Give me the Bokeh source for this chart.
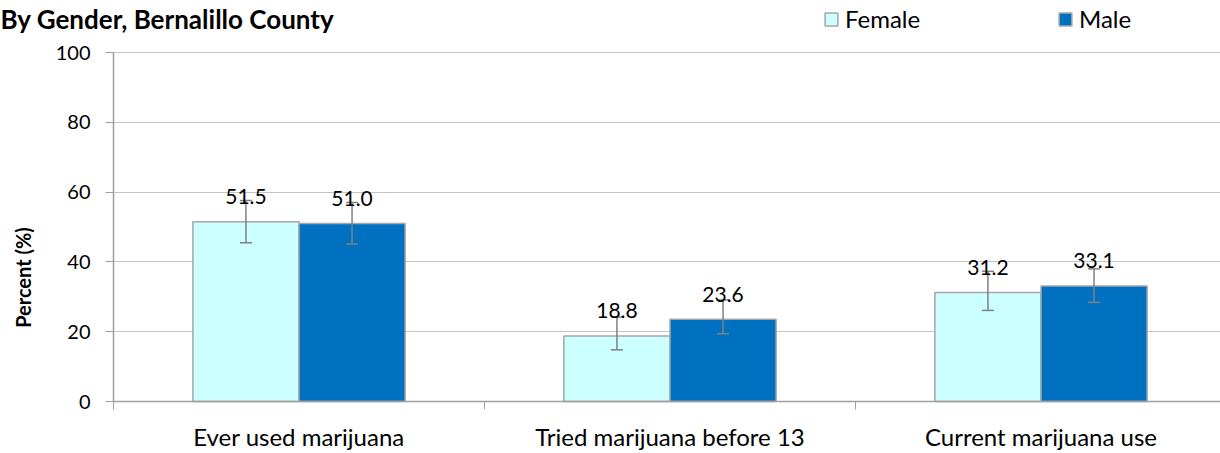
import math
from bokeh.plotting import figure
from bokeh.models import (Range1d, FixedTicker, Whisker, TeeHead, ColumnDataSource,
                          Legend, LegendItem, Label)
from bokeh.embed import file_html
from bokeh.resources import INLINE

# ---- data ----
categories = ["Ever used marijuana", "Tried marijuana before 13", "Current marijuana use"]
series = ["Female", "Male"]
female = [51.5, 18.8, 31.2]
male = [51.0, 23.6, 33.1]
female_lo = [45.5, 14.8, 26.1]
female_hi = [57.6, 24.2, 37.3]
male_lo = [45.1, 19.4, 28.4]
male_hi = [57.0, 29.1, 38.0]
y_ticks = [0, 20, 40, 60, 80, 100]
title_text = "By Gender, Bernalillo County"
y_label = "Percent (%)"

FONT = "Lato"
AXIS_GRAY = "#A0A0A0"
GRID_GRAY = "#C4C4C4"
BAR_EDGE = "#A6A6A6"
ERR_GRAY = "#808080"
F_COLOR = "#CCFFFF"
M_COLOR = "#0070C0"

# ---- layout (pixels) ----
W, H = 1220, 453
AX_L, AX_T, AX_B = 113, 52, 401      # plot-area left / top / bottom on canvas
CAT_W = 371.0                        # pixels per category
PPU = (AX_B - AX_T) / 100.0          # pixels per percent

x_start = -AX_L / CAT_W
x_end = (W - AX_L) / CAT_W
y_start = -(H - AX_B) / PPU
y_end = 100 + AX_T / PPU


def px_x(px):
    return (px - AX_L) / CAT_W


def px_y(py):
    return (AX_B - py) / PPU


BW = 0.286
n = len(categories)
centers = [i + 0.5 for i in range(n)]
src = ColumnDataSource(dict(
    xf=[c - BW / 2 for c in centers],
    xm=[c + BW / 2 for c in centers],
    female=female, male=male,
    flo=female_lo, fhi=female_hi, mlo=male_lo, mhi=male_hi,
    flab=[f"{v:.1f}" for v in female],
    mlab=[f"{v:.1f}" for v in male],
))

p = figure(width=W, height=H, output_backend="svg", toolbar_location=None,
           x_range=Range1d(x_start, x_end), y_range=Range1d(y_start, y_end),
           min_border_left=0, min_border_right=0, min_border_top=0,
           min_border_bottom=0)
p.outline_line_color = None
p.background_fill_color = "white"
p.border_fill_color = "white"

# x axis (drawn at y = 0)
xa = p.xaxis[0]
xa.fixed_location = 0
xa.bounds = (0, x_end)
xa.ticker = FixedTicker(ticks=centers, minor_ticks=[float(i) for i in range(n + 1)])
xa.major_label_overrides = {c: cat for c, cat in zip(centers, categories)}
xa.major_tick_in = 0
xa.major_tick_out = 0
xa.minor_tick_in = 0
xa.minor_tick_out = 8
xa.minor_tick_line_color = AXIS_GRAY
xa.axis_line_color = AXIS_GRAY
xa.axis_line_width = 1.5
xa.major_label_standoff = 12
xa.major_label_text_font = FONT
xa.major_label_text_font_size = "24px"
xa.major_label_text_color = "#000000"

# y axis (drawn at x = 0)
ya = p.yaxis[0]
ya.fixed_location = 0
ya.bounds = (0, 100)
ya.ticker = FixedTicker(ticks=y_ticks, minor_ticks=[])
ya.major_tick_in = 0
ya.major_tick_out = 8
ya.major_tick_line_color = AXIS_GRAY
ya.axis_line_color = AXIS_GRAY
ya.axis_line_width = 1.5
ya.major_label_standoff = 15
ya.major_label_text_font = FONT
ya.major_label_text_font_size = "20px"
ya.major_label_text_color = "#000000"

p.xgrid.visible = False
p.ygrid.ticker = FixedTicker(ticks=y_ticks)
p.ygrid.grid_line_color = GRID_GRAY
p.ygrid.grid_line_width = 1.2
try:
    p.ygrid.cross_bounds = (0, x_end)
except Exception:
    pass

# chart title (top-left)
p.add_layout(Label(x=x_start, y=px_y(18), text=title_text, text_align="left",
                   text_baseline="alphabetic", text_font=FONT,
                   text_font_size="26px", text_font_style="bold",
                   text_color="#000000"))

# y axis title
p.add_layout(Label(x=px_x(22), y=px_y(277), text=y_label, angle=math.pi / 2,
                   text_align="center", text_baseline="middle", text_font=FONT,
                   text_font_size="20px", text_font_style="bold",
                   text_color="#000000"))

# bars
rf = p.vbar(x="xf", top="female", width=BW, source=src, fill_color=F_COLOR,
            line_color=BAR_EDGE, line_width=1.5)
rm = p.vbar(x="xm", top="male", width=BW, source=src, fill_color=M_COLOR,
            line_color=BAR_EDGE, line_width=1.5)

# error bars
for base, lo, hi in (("xf", "flo", "fhi"), ("xm", "mlo", "mhi")):
    w = Whisker(base=base, lower=lo, upper=hi, source=src, level="annotation",
                line_color=ERR_GRAY, line_width=1.5,
                upper_head=TeeHead(size=12, line_color=ERR_GRAY, line_width=1.5),
                lower_head=TeeHead(size=12, line_color=ERR_GRAY, line_width=1.5))
    p.add_layout(w)

# data labels
for xcol, ycol, lab in (("xf", "female", "flab"), ("xm", "male", "mlab")):
    t = p.text(x=xcol, y=ycol, text=lab, source=src, y_offset=-25,
               text_align="center", text_baseline="alphabetic",
               text_font={"value": FONT}, text_font_size={"value": "21px"},
               text_color="#000000")
    t.level = "overlay"

legend = Legend(items=[LegendItem(label=series[0], renderers=[rf]),
                       LegendItem(label=series[1], renderers=[rm])],
                orientation="horizontal", location=(823, H - 33),
                glyph_width=16, glyph_height=16, label_width=212, spacing=0,
                padding=0, margin=0, label_standoff=6,
                border_line_color=None, background_fill_alpha=0,
                label_text_font=FONT, label_text_font_size="24px",
                label_text_color="#000000")
p.add_layout(legend)

open("out.html", "w").write(file_html(p, INLINE))
